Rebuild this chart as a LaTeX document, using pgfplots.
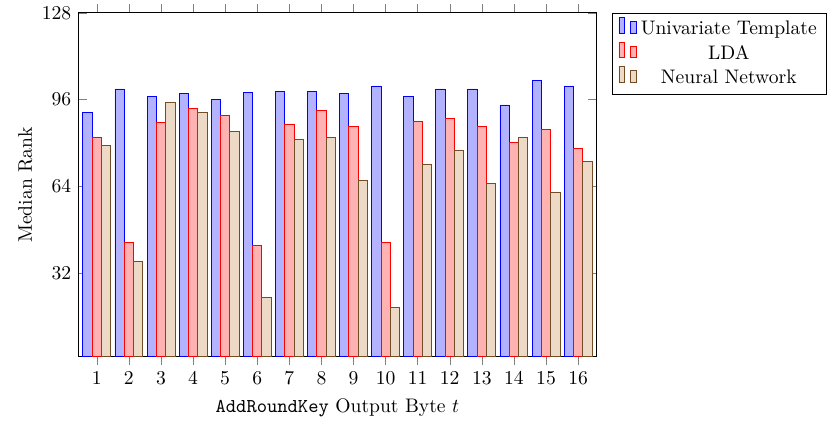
\documentclass[border=0pt]{standalone}
\usepackage{pgfplots}
\pgfplotsset{compat=1.18}
\begin{document}
\begin{tikzpicture}
\begin{axis}[
  scale only axis,
  width=264.5pt, height=175.5pt,
  ybar=0pt,
  bar width=0.29,
  xmin=0.42, xmax=16.58,
  ymin=1, ymax=128,
  xtick={1,...,16},
  ytick={32,64,96,128},
  xtick align=outside,
  ylabel={Median Rank},
  ylabel style={yshift=-2pt},
  xlabel={\texttt{AddRoundKey} Output Byte $t$},
  legend pos=outer north east,
  legend cell align=center,
]
\addplot coordinates {(1,91.1) (2,99.9) (3,97.0) (4,98.1) (5,96.0) (6,98.5) (7,98.9) (8,98.9) (9,98.1) (10,101.0) (11,97.0) (12,99.9) (13,99.9) (14,94.0) (15,103.0) (16,101.0)};
\addplot coordinates {(1,82.0) (2,43.1) (3,87.6) (4,92.6) (5,90.0) (6,42.0) (7,87.0) (8,92.0) (9,85.9) (10,43.1) (11,88.0) (12,89.0) (13,85.9) (14,80.0) (15,85.0) (16,78.0)};
\addplot coordinates {(1,79.0) (2,36.1) (3,95.0) (4,91.1) (5,84.1) (6,23.0) (7,81.1) (8,82.0) (9,66.0) (10,19.1) (11,72.0) (12,77.1) (13,65.0) (14,82.0) (15,61.9) (16,73.0)};
\legend{Univariate Template, LDA, Neural Network}
\end{axis}
\path ([xshift=-6pt]current bounding box.west);
\end{tikzpicture}
\end{document}
